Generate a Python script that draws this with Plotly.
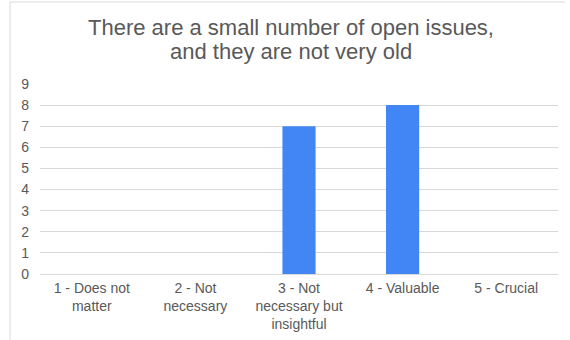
import plotly.graph_objects as go

# Survey responses per rating
categories = [
    "1 - Does not<br>matter",
    "2 - Not<br>necessary",
    "3 - Not<br>necessary but<br>insightful",
    "4 - Valuable",
    "5 - Crucial",
]
counts = [0, 0, 7, 8, 0]
y_ticks = list(range(0, 10))
title_lines = ["There are a small number of open issues,", "and they are not very old"]

W, H = 570, 340
ml, mr, mt, mb = 40, 12, 84, 66

fig = go.Figure(
    go.Bar(
        x=categories,
        y=counts,
        marker=dict(color="#4285F4", line=dict(width=0)),
        hoverinfo="x+y",
    )
)

grey = "#595959"
fig.update_layout(
    width=W,
    height=H,
    margin=dict(l=ml, r=mr, t=mt, b=mb),
    paper_bgcolor="white",
    plot_bgcolor="white",
    bargap=0.68,
    showlegend=False,
    font=dict(family="Liberation Sans, Arial, sans-serif", size=14, color=grey),
    xaxis=dict(
        showgrid=False,
        showline=False,
        ticks="",
        automargin=False,
        ticklabelstandoff=4,
        tickfont=dict(size=14, color=grey),
    ),
    yaxis=dict(
        range=[0, 9],
        tickvals=y_ticks,
        showgrid=True,
        gridcolor="#d9d9d9",
        gridwidth=1,
        zeroline=True,
        zerolinecolor="#d9d9d9",
        zerolinewidth=1,
        showline=False,
        ticks="",
        automargin=False,
        ticklabelstandoff=10,
        tickfont=dict(size=14, color=grey),
    ),
)

# Two-line heading, each line placed on its own
for i, line in enumerate(title_lines):
    fig.add_annotation(
        text=line,
        xref="paper", yref="paper",
        x=(291 - ml) / (W - ml - mr),
        y=(H - mb - (28 + 24 * i)) / (H - mt - mb),
        xanchor="center", yanchor="middle",
        showarrow=False,
        font=dict(size=22, color=grey),
    )

# Light frame along the top and left edges of the chart box
pw = W - ml - mr
ph = H - mt - mb
x_left = (10 - ml) / pw
y_top = (H - mb - 2) / ph
fig.add_shape(type="line", xref="paper", yref="paper",
              x0=x_left, x1=(565 - ml) / pw, y0=y_top, y1=y_top,
              line=dict(color="#d9d9d9", width=1))
fig.add_shape(type="line", xref="paper", yref="paper",
              x0=x_left, x1=x_left, y0=y_top, y1=-mb / ph - 0.1,
              line=dict(color="#d9d9d9", width=1))

fig.write_html("out.html")
